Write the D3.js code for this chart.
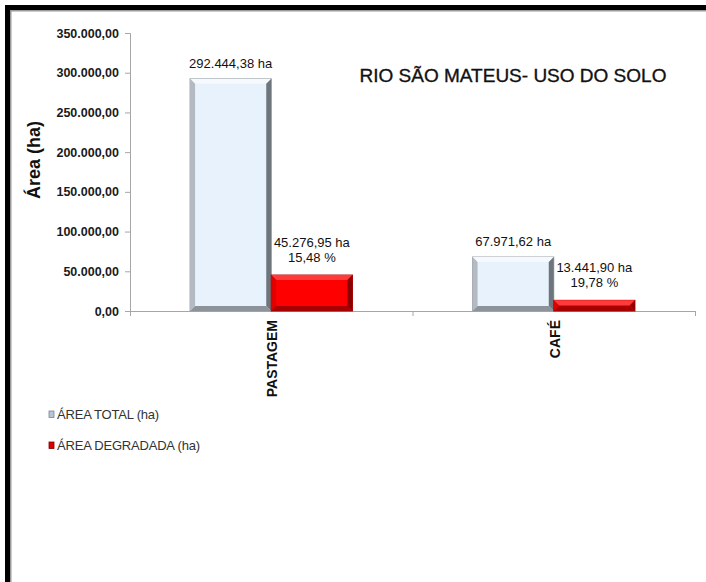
<!DOCTYPE html>
<html>
<head>
<meta charset="utf-8">
<script src="https://cdn.jsdelivr.net/npm/d3@7"></script>
<style>
  body { margin: 0; background: #fff; }
  svg { display: block; }
  text { font-family: "Liberation Sans", Arial, sans-serif; }
</style>
</head>
<body>
<svg id="chart"></svg>
<script>
// ---------------------- data ---------------------------
const categories = ["PASTAGEM", "CAFÉ"];
const seriesNames = ["ÁREA TOTAL (ha)", "ÁREA DEGRADADA (ha)"];
const areaTotal = [292444.38, 67971.62];
const areaDegradada = [45276.95, 13441.90];
const yTicks = [0, 50000, 100000, 150000, 200000, 250000, 300000, 350000];

// ---------------------- setup ---------------------------
const width = 706;
const height = 582;
const plotLeft = 130, plotRight = 695, plotTop = 33, plotBottom = 311;

const svg = d3.select("#chart")
  .attr("width", width)
  .attr("height", height);

// pt-BR number format
const locale = d3.formatLocale({ decimal: ",", thousands: ".", grouping: [3], currency: ["R$", ""] });
const fmt = locale.format(",.2f");

// outer frame
svg.append("rect")
  .attr("x", 7.5).attr("y", 7.5)
  .attr("width", width + 20).attr("height", height + 20)
  .attr("fill", "none").attr("stroke", "#000").attr("stroke-width", 5);
svg.append("rect")
  .attr("x", 10.75).attr("y", 10.75)
  .attr("width", width + 20).attr("height", height + 20)
  .attr("fill", "none").attr("stroke", "#9a9a9a").attr("stroke-width", 1.5);

// scales
const yScale = d3.scaleLinear().domain([0, 350000]).range([plotBottom, plotTop]);
const x0 = d3.scaleBand().domain(categories).range([plotLeft, plotRight]);
const x1 = d3.scaleBand().domain(seriesNames).range([0, x0.bandwidth()])
  .paddingInner(0).paddingOuter(0.74);

// y axis
const yAxis = svg.append("g")
  .attr("transform", "translate(" + plotLeft + ",0)")
  .call(d3.axisLeft(yScale).tickValues(yTicks).tickSize(5).tickPadding(6).tickFormat(fmt));
yAxis.select(".domain").attr("stroke", "#a6a6a6");
yAxis.selectAll(".tick line").attr("stroke", "#a6a6a6");
yAxis.selectAll(".tick text")
  .attr("font-size", "12.5px").attr("font-weight", "bold").attr("fill", "#1a1a1a")
  .attr("font-family", "Liberation Sans, Arial, sans-serif");

// x axis (ticks at category boundaries)
svg.append("line")
  .attr("x1", plotLeft).attr("x2", plotRight)
  .attr("y1", plotBottom + 0.5).attr("y2", plotBottom + 0.5)
  .attr("stroke", "#a6a6a6");
const boundaries = categories.map(c => x0(c)).concat([x0(categories[categories.length - 1]) + x0.bandwidth()]);
svg.selectAll(".xtick")
  .data(boundaries)
  .join("line")
  .attr("x1", d => d + 0.5).attr("x2", d => d + 0.5)
  .attr("y1", plotBottom).attr("y2", plotBottom + 5)
  .attr("stroke", "#a6a6a6");

// category labels (rotated)
svg.selectAll(".cat")
  .data(categories)
  .join("text")
  .attr("transform", d => "translate(" + (x0(d) + x0.bandwidth() / 2 + 6) + "," + (plotBottom + 9) + ") rotate(-90)")
  .attr("text-anchor", "end")
  .attr("font-size", "14px")
  .attr("font-weight", "bold")
  .attr("fill", "#111")
  .text(d => d);

// ---------------------- bars with bevel ---------------------------
const styles = [
  { fill: "#e8f2fd", top: "#f6f9fd", left: "#b4bac2", right: "#6f757c", bottom: "#8d939a", edge: "#9aa0a8" },
  { fill: "#ff0000", top: "#ff3a3a", left: "#e00000", right: "#8a0000", bottom: "#a80000", edge: "#b00000" }
];
const bev = 5;

function drawBar(g, x, y, w, h, st) {
  g.append("rect").attr("x", x).attr("y", y).attr("width", w).attr("height", h)
    .attr("fill", st.fill).attr("stroke", st.edge).attr("stroke-width", 1);
  const b = Math.min(bev, h / 2, w / 2);
  const pts = {
    top: [[x, y], [x + w, y], [x + w - b, y + b], [x + b, y + b]],
    left: [[x, y], [x + b, y + b], [x + b, y + h - b], [x, y + h]],
    right: [[x + w, y], [x + w, y + h], [x + w - b, y + h - b], [x + w - b, y + b]],
    bottom: [[x, y + h], [x + b, y + h - b], [x + w - b, y + h - b], [x + w, y + h]]
  };
  Object.keys(pts).forEach(k => {
    g.append("polygon").attr("points", pts[k].map(p => p.join(",")).join(" ")).attr("fill", st[k]);
  });
}

const barsG = svg.append("g");
const seriesValues = [areaTotal, areaDegradada];
categories.forEach((c, i) => {
  seriesNames.forEach((s, j) => {
    const v = seriesValues[j][i];
    const x = x0(c) + x1(s);
    const y = yScale(v);
    drawBar(barsG, x, y, x1.bandwidth(), plotBottom - y, styles[j]);
  });
});

// ---------------------- value labels ---------------------------
const labelsG = svg.append("g")
  .attr("font-size", "13px").attr("fill", "#111").attr("text-anchor", "middle");
categories.forEach((c, i) => {
  const tx = x0(c) + x1(seriesNames[0]) + x1.bandwidth() / 2;
  labelsG.append("text")
    .attr("x", tx).attr("y", yScale(areaTotal[i]) - 11)
    .text(fmt(areaTotal[i]) + " ha");
  const dx = x0(c) + x1(seriesNames[1]) + x1.bandwidth() / 2;
  const pct = areaDegradada[i] / areaTotal[i] * 100;
  labelsG.append("text")
    .attr("x", dx).attr("y", yScale(areaDegradada[i]) - 28)
    .text(fmt(areaDegradada[i]) + " ha");
  labelsG.append("text")
    .attr("x", dx).attr("y", yScale(areaDegradada[i]) - 13)
    .text(locale.format(".2f")(pct) + " %");
});

// ---------------------- titles ---------------------------
svg.append("text")
  .attr("x", 513).attr("y", 82)
  .attr("text-anchor", "middle")
  .attr("font-size", "19px").attr("fill", "#111")
  .attr("stroke", "#111").attr("stroke-width", 0.35)
  .text("RIO SÃO MATEUS- USO DO SOLO");

svg.append("text")
  .attr("transform", "translate(40,160) rotate(-90)")
  .attr("text-anchor", "middle")
  .attr("font-size", "18px").attr("font-weight", "bold").attr("fill", "#111")
  .text("Área (ha)");

// ---------------------- legend ---------------------------
const legendColors = ["#b8c4d4", "#dd0000"];
const legend = svg.selectAll(".legend")
  .data(seriesNames)
  .join("g")
  .attr("transform", (d, i) => "translate(49," + (414 + i * 31) + ")");
legend.append("rect")
  .attr("x", 0).attr("y", -3).attr("width", 5).attr("height", 6.5)
  .attr("fill", (d, i) => legendColors[i])
  .attr("stroke", (d, i) => i === 0 ? "#7a8494" : "#800000").attr("stroke-width", 0.8);
legend.append("text")
  .attr("x", 8).attr("y", 5)
  .attr("font-size", "13px").attr("letter-spacing", "-0.2px").attr("fill", "#333")
  .text(d => d);
</script>
</body>
</html>
